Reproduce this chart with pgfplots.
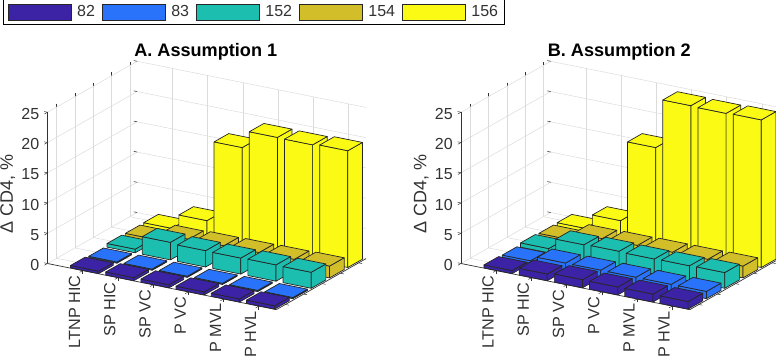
\documentclass[border=0pt]{standalone}
\usepackage{fontspec}
\setmainfont{Liberation Sans}
\usepackage{pgfplots}
\pgfplotsset{compat=1.18}
\definecolor{cA}{RGB}{60,35,165}
\definecolor{cB}{RGB}{40,115,250}
\definecolor{cC}{RGB}{27,190,175}
\definecolor{cD}{RGB}{210,190,40}
\definecolor{cE}{RGB}{250,250,20}
\definecolor{axc}{RGB}{50,50,50}
\pgfplotsset{
  barface/.style={draw=black!85,line width=0.7pt,line join=round,forget plot,mark=none,solid},
  panel/.style={
    anchor=south west, clip=false,
    x={(35.2pt,-7.1pt)}, y={(18.3pt,10.4pt)}, z={(0pt,6.05pt)},
    xmin=0,xmax=6.5,ymin=0.5,ymax=5.4,zmin=0,zmax=25,
    xtick={1,2,3,4,5,6},
    xticklabels={LTNP HIC,SP HIC,SP VC,P VC,P MVL,P HVL},
    ytick={1,2,3,4,5}, yticklabels={},
    ztick={0,5,10,15,20,25},
    grid=major,
    grid style={black!14,line width=0.5pt},
    axis line style={draw=none},
    tick align=outside, major tick length=3.5pt,
    xtick pos=lower, ytick pos=upper, ztick pos=lower,
    tick style={axc,line width=0.5pt},
    /pgf/number format/assume math mode=true,
    ticklabel style={font=\fontsize{16}{18}\selectfont,text=axc},
    xticklabel style={font=\fontsize{16.2}{18}\selectfont,rotate=90,anchor=east,inner sep=0pt,xshift=-3pt,yshift=5pt},
    zticklabel style={anchor=east,inner sep=0pt,xshift=-5pt},
    title style={at={(0.497,1.015)},anchor=center,font=\fontsize{18.1}{20}\selectfont\bfseries,text=black},
    every axis z label/.style={at={(axis description cs:-0.125,0.465)},rotate=90,anchor=center,font=\fontsize{18}{20}\selectfont,text=axc},
    zlabel={Δ CD4, \%},
  },
}
\newcommand{\zb}{-0.2}
\newcommand{\tdbar}[4]{%
  \pgfmathsetmacro\xa{#1-0.4}\pgfmathsetmacro\xb{#1+0.4}%
  \pgfmathsetmacro\ya{#2-0.4}\pgfmathsetmacro\yb{#2+0.4}%
  \addplot3[barface,fill=#4] coordinates {(\xa,\ya,\zb)(\xb,\ya,\zb)(\xb,\ya,#3)(\xa,\ya,#3)(\xa,\ya,\zb)};
  \addplot3[barface,fill=#4] coordinates {(\xb,\ya,\zb)(\xb,\yb,\zb)(\xb,\yb,#3)(\xb,\ya,#3)(\xb,\ya,\zb)};
  \addplot3[barface,fill=#4] coordinates {(\xa,\ya,#3)(\xb,\ya,#3)(\xb,\yb,#3)(\xa,\yb,#3)(\xa,\ya,#3)};
}
\newcommand{\tdseries}[8]{% y, colour, six heights
  \tdbar{1}{#1}{#3}{#2}\tdbar{2}{#1}{#4}{#2}\tdbar{3}{#1}{#5}{#2}%
  \tdbar{4}{#1}{#6}{#2}\tdbar{5}{#1}{#7}{#2}\tdbar{6}{#1}{#8}{#2}%
}
\newcommand{\axlines}{%
  \addplot3[axc,line width=0.7pt,forget plot,mark=none] coordinates {(0,0.5,0)(0,0.5,25)};
  \addplot3[axc,line width=0.7pt,forget plot,mark=none] coordinates {(0,0.5,0)(6.5,0.5,0)};
  \addplot3[axc,line width=0.7pt,forget plot,mark=none] coordinates {(6.5,0.5,0)(6.5,5.4,0)};
}
\begin{document}
\begin{tikzpicture}
\path[use as bounding box] (0pt,0pt) rectangle (776pt,358pt);
\begin{axis}[panel, at={(47.5pt,48.35pt)}, title={A. Assumption 1},
  legend columns=5,
  legend cell align=left,
  legend style={at={(-0.139,1.249)},anchor=north west,draw=black,fill=white,line width=0.7pt,
    font=\fontsize{16}{18}\selectfont, text=axc, inner xsep=4.5pt, inner ysep=4pt,
    /tikz/every odd column/.append style={column sep=3.5pt},
    /tikz/every even column/.append style={column sep=5.2pt}},
  legend image code/.code={\draw[#1,line width=0.6pt] (0pt,-7.8pt) rectangle (63pt,7.8pt);},
]
\axlines
\tdseries{5}{cE}{0.4}{2.85}{16.1}{18.95}{18.9}{19.1}
\tdseries{4}{cD}{0.35}{1.5}{1.6}{1.65}{1.7}{1.75}
\tdseries{3}{cC}{0.4}{2.7}{2.5}{2.45}{2.5}{2.45}
\tdseries{2}{cB}{0}{0}{0}{0}{0}{0}
\tdseries{1}{cA}{0.2}{0.3}{0.3}{0.3}{0.3}{0.35}
\addlegendimage{fill=cA,draw=black!85}\addlegendentry{82}
\addlegendimage{fill=cB,draw=black!85}\addlegendentry{83}
\addlegendimage{fill=cC,draw=black!85}\addlegendentry{152}
\addlegendimage{fill=cD,draw=black!85}\addlegendentry{154}
\addlegendimage{fill=cE,draw=black!85}\addlegendentry{156}
\end{axis}
\begin{axis}[panel, at={(461pt,48.35pt)}, title={B. Assumption 2}]
\axlines
\tdseries{5}{cE}{0.4}{2.85}{16.1}{24.2}{24.1}{24.2}
\tdseries{4}{cD}{0.35}{1.6}{1.65}{1.7}{1.7}{1.75}
\tdseries{3}{cC}{0.5}{2.3}{2.4}{2.3}{2.35}{2.4}
\tdseries{2}{cB}{0.2}{1.0}{1.0}{1.0}{1.0}{1.0}
\tdseries{1}{cA}{0.3}{0.9}{1.15}{1.1}{1.1}{1.05}
\end{axis}
\end{tikzpicture}
\end{document}
